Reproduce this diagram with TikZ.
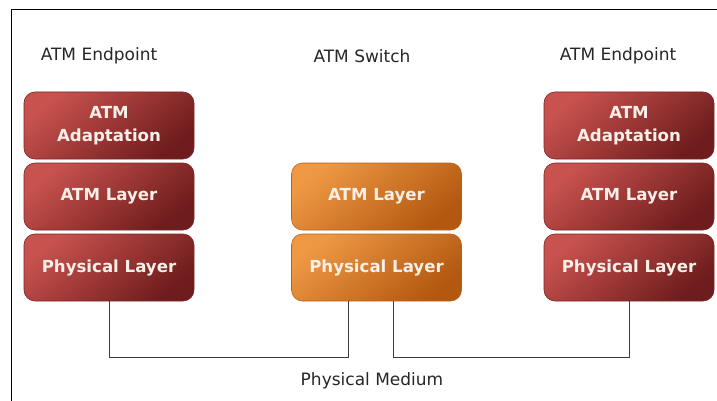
\documentclass[tikz,border=0pt]{standalone}
\usepackage{fontspec}
\setmainfont{DejaVu Sans}
\definecolor{redL}{HTML}{C8524E}
\definecolor{redD}{HTML}{6E1C1D}
\definecolor{redE}{HTML}{7A2626}
\definecolor{orgL}{HTML}{EE9844}
\definecolor{orgD}{HTML}{B25810}
\definecolor{orgE}{HTML}{B8621C}
\definecolor{boxtext}{HTML}{FAF0E8}
\definecolor{wire}{HTML}{3A3A3A}
\tikzset{
  layerbox/.style={rounded corners=11pt, minimum width=170pt, minimum height=67pt,
    inner sep=0pt, align=center, text=boxtext,
    font=\fontsize{16.6}{23}\selectfont\bfseries},
  redbox/.style={layerbox, draw=redE, line width=0.6pt,
    top color=redL, bottom color=redD, shading angle=40},
  orangebox/.style={layerbox, draw=orgE, line width=0.6pt,
    top color=orgL, bottom color=orgD, shading angle=40},
  caption/.style={font=\fontsize{17}{20}\selectfont, text=black!85},
  wire/.style={draw=wire, line width=0.9pt}
}
\begin{document}
\begin{tikzpicture}[x=1pt,y=-1pt]
\useasboundingbox (0,0) rectangle (717,401);
% frame
\draw[line width=1pt] (717,10) -- (11,10) -- (11,401);

% column headings
\node[caption] (hl) at (99,56) {ATM Endpoint};
\node[caption] (hm) at (362,56) {ATM Switch};
\node[caption] (hr) at (618,56) {ATM Endpoint};

% left endpoint stack
\node[redbox] (la) at (109,125.5) {ATM\\Adaptation};
\node[redbox] (ll) at (109,196.5) {ATM Layer};
\node[redbox] (lp) at (109,267.5) {Physical Layer};

% switch stack
\node[orangebox] (ml) at (376.5,196.5) {ATM Layer};
\node[orangebox] (mp) at (376.5,267.5) {Physical Layer};

% right endpoint stack
\node[redbox] (ra) at (629,125.5) {ATM\\Adaptation};
\node[redbox] (rl) at (629,196.5) {ATM Layer};
\node[redbox] (rp) at (629,267.5) {Physical Layer};

% physical medium wiring
\coordinate (w1) at (348,357);
\coordinate (w2) at (393,357);
\draw[wire] (lp.south) |- (w1) -- (w1 |- mp.south);
\draw[wire] (w2 |- mp.south) -- (w2) -| (rp.south);

\node[caption] (pm) at (372,381) {Physical Medium};
\end{tikzpicture}
\end{document}
